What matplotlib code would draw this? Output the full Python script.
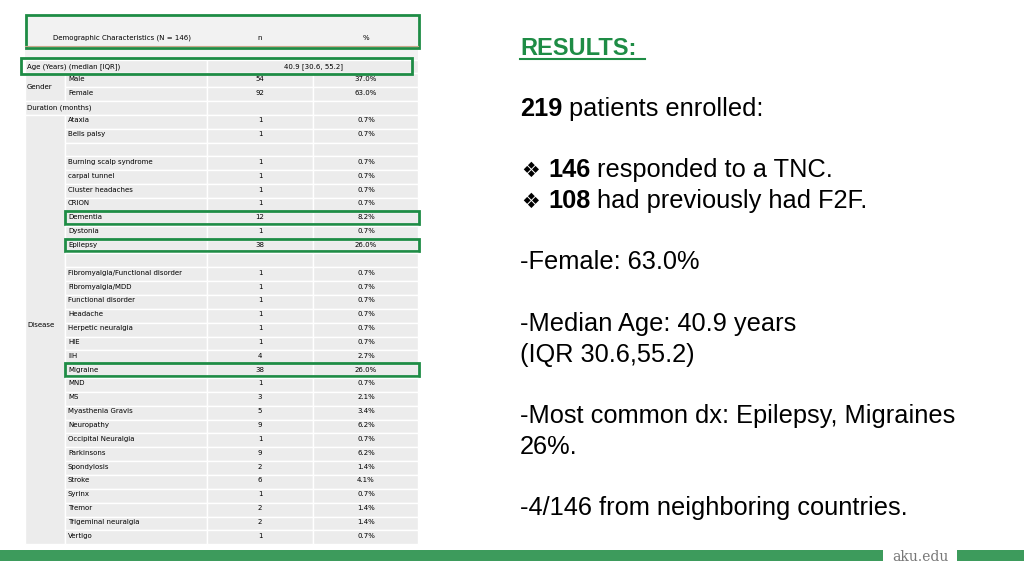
import matplotlib
matplotlib.use("Agg")
import matplotlib.pyplot as plt
from matplotlib.patches import Rectangle

# table data
diseases = ["Ataxia", "Bells palsy", "", "Burning scalp syndrome", "carpal tunnel",
            "Cluster headaches", "CRION", "Dementia", "Dystonia", "Epilepsy", "",
            "Fibromyalgia/Functional disorder", "Fibromyalgia/MDD", "Functional disorder",
            "Headache", "Herpetic neuralgia", "HIE", "IIH", "Migraine", "MND", "MS",
            "Myasthenia Gravis", "Neuropathy", "Occipital Neuralgia", "Parkinsons",
            "Spondylosis", "Stroke", "Syrinx", "Tremor", "Trigeminal neuralgia", "Vertigo"]
counts = ["1", "1", "", "1", "1", "1", "1", "12", "1", "38", "", "1", "1", "1", "1",
          "1", "1", "4", "38", "1", "3", "5", "9", "1", "9", "2", "6", "1", "2", "2", "1"]
percents = ["0.7%", "0.7%", "", "0.7%", "0.7%", "0.7%", "0.7%", "8.2%", "0.7%", "26.0%", "",
            "0.7%", "0.7%", "0.7%", "0.7%", "0.7%", "0.7%", "2.7%", "26.0%", "0.7%", "2.1%",
            "3.4%", "6.2%", "0.7%", "6.2%", "1.4%", "4.1%", "0.7%", "1.4%", "1.4%", "0.7%"]
gender = ["Male", "Female"]
gender_n = ["54", "92"]
gender_pct = ["37.0%", "63.0%"]
highlighted = ["Dementia", "Epilepsy", "Migraine"]

GREEN = "#1e8c45"
CELL = "#ececec"

fig = plt.figure(figsize=(10.24, 5.76), dpi=100)
ax = fig.add_axes([0, 0, 1, 1])
ax.set_xlim(0, 1024)
ax.set_ylim(576, 0)
ax.axis("off")

x0, x1, x2, x3, x4 = 25, 65, 207, 313, 418
rh = 13.85
fs = 5.0


def cell(x, y, w, h):
    ax.add_patch(Rectangle((x, y), w, h, facecolor=CELL, edgecolor="white", lw=1))


# header
ax.add_patch(Rectangle((x0, 16), x4 - x0, 44, facecolor="#f2f2f2", edgecolor="none"))
ax.plot([x0, x4], [46, 46], color="#c8a88a", lw=0.8)
ax.text(53, 38, "Demographic Characteristics (N = 146)", fontsize=fs, va="center")
ax.text(260, 38, "n", fontsize=fs, ha="center", va="center")
ax.text(366, 38, "%", fontsize=fs, ha="center", va="center")

# age row
y = 59.5
cell(x0, y, x2 - x0, rh)
cell(x2, y, x4 - x2, rh)
ax.text(x0 + 2, y + rh / 2, "Age (Years) (median [IQR])", fontsize=fs, va="center")
ax.text(313, y + rh / 2, "40.9 [30.6, 55.2]", fontsize=fs, ha="center", va="center")

# gender rows
y = 59.5 + rh
cell(x0, y, x1 - x0, rh * 2)
ax.text(x0 + 2, y + rh, "Gender", fontsize=fs, va="center")
for i, g in enumerate(gender):
    yy = y + i * rh
    cell(x1, yy, x2 - x1, rh)
    cell(x2, yy, x3 - x2, rh)
    cell(x3, yy, x4 - x3, rh)
    ax.text(x1 + 3, yy + rh / 2 - 1.5, g, fontsize=fs, va="center")
    ax.text(260, yy + rh / 2 - 1.5, gender_n[i], fontsize=fs, ha="center", va="center")
    ax.text(366, yy + rh / 2 - 1.5, gender_pct[i], fontsize=fs, ha="center", va="center")

# duration row
y = 59.5 + 3 * rh
cell(x0, y, x2 - x0, rh)
cell(x2, y, x3 - x2, rh)
cell(x3, y, x4 - x3, rh)
ax.text(x0 + 2, y + rh / 2, "Duration (months)", fontsize=fs, va="center")

# disease rows
ystart = 59.5 + 4 * rh
cell(x0, ystart, x1 - x0, rh * len(diseases))
ax.text(x0 + 2, ystart + rh * len(diseases) * 0.5 - 5, "Disease", fontsize=fs, va="center")
for i, d in enumerate(diseases):
    yy = ystart + i * rh
    cell(x1, yy, x2 - x1, rh)
    cell(x2, yy, x3 - x2, rh)
    cell(x3, yy, x4 - x3, rh)
    yc = yy + rh / 2 - 1.5 if d else yy + rh / 2
    ax.text(x1 + 3, yc, d, fontsize=fs, va="center")
    ax.text(260, yc, counts[i], fontsize=fs, ha="center", va="center")
    ax.text(366, yc, percents[i], fontsize=fs, ha="center", va="center")
    if d in highlighted:
        ax.add_patch(Rectangle((x1, yy - 1), x4 - x1 + 1, rh - 1, fill=False,
                               edgecolor=GREEN, lw=2))

# green highlight boxes for header and age
ax.add_patch(Rectangle((26, 15), 393, 33, fill=False, edgecolor=GREEN, lw=2))
ax.add_patch(Rectangle((21, 58), 391, 16, fill=False, edgecolor=GREEN, lw=2))

# right side text
fig.canvas.draw()
renderer = fig.canvas.get_renderer()
font = "Liberation Sans"
tfs = 18.3


def mixed(x, y, parts):
    for txt, bold in parts:
        t = ax.text(x, y, txt, fontsize=tfs, family=font, va="baseline",
                    fontweight="bold" if bold else "normal")
        bb = t.get_window_extent(renderer)
        x += bb.width


ax.text(520, 55, "RESULTS:", fontsize=17, family=font, fontweight="bold",
        color=GREEN, va="baseline")
ax.plot([520, 645], [59, 59], color=GREEN, lw=1.5)
mixed(520, 116, [("219", True), (" patients enrolled:", False)])
ax.text(521, 177, "\u2756", fontsize=15, family="DejaVu Sans", va="baseline")
mixed(548, 177, [("146", True), (" responded to a TNC.", False)])
ax.text(521, 208, "\u2756", fontsize=15, family="DejaVu Sans", va="baseline")
mixed(548, 208, [("108", True), (" had previously had F2F.", False)])
mixed(520, 269, [("-Female: 63.0%", False)])
mixed(520, 331, [("-Median Age: 40.9 years", False)])
mixed(520, 362, [("(IQR 30.6,55.2)", False)])
mixed(520, 423, [("-Most common dx: Epilepsy, Migraines", False)])
mixed(520, 454, [("26%.", False)])
mixed(520, 515, [("-4/146 from neighboring countries.", False)])

# footer bar
ax.add_patch(Rectangle((0, 550), 1024, 11, facecolor="#3d9b5c", edgecolor="none"))
ax.add_patch(Rectangle((883, 546), 74, 20, facecolor="white", edgecolor="none"))
ax.text(920, 557, "aku.edu", fontsize=10, family="DejaVu Serif", color="#777777",
        ha="center", va="center")

fig.savefig("out.png", dpi=100)
